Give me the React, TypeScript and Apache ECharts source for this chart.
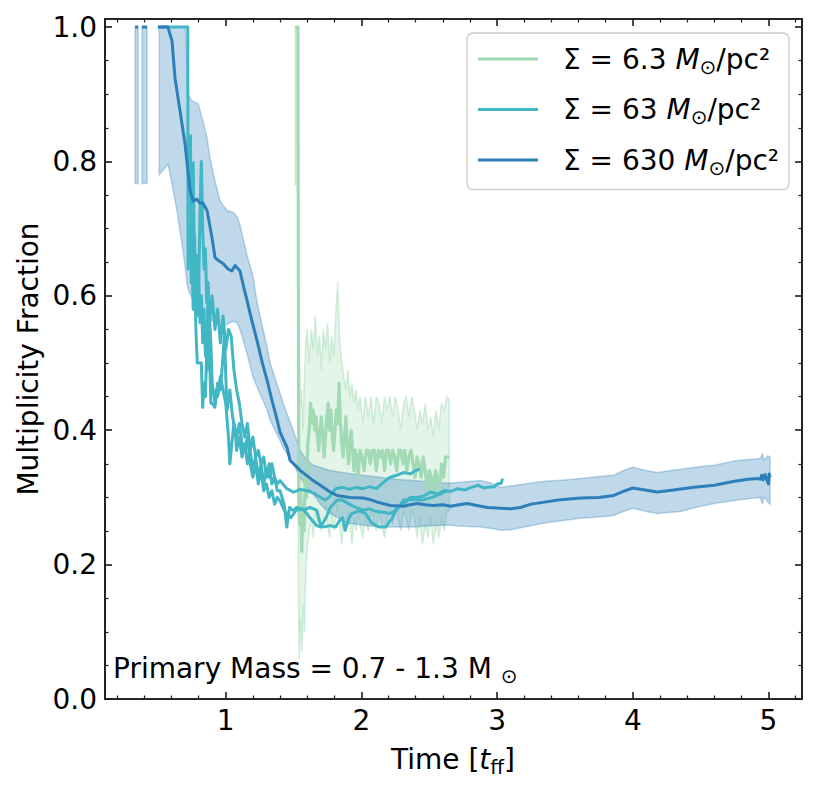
import React, { useEffect, useRef } from "react";
import * as echarts from "echarts";

const FONT = "'DejaVu Sans', sans-serif";

// axis ranges and ticks
const X_RANGE = [0.11, 5.247];
const Y_RANGE = [0, 1.012];
const xMajorTicks = [1, 2, 3, 4, 5];
const xMinorTicks = [0.2, 0.4, 0.6, 0.8, 1.2, 1.4, 1.6, 1.8, 2.2, 2.4, 2.6, 2.8, 3.2, 3.4, 3.6, 3.8, 4.2, 4.4, 4.6, 4.8, 5.2];
const yMajorTicks = [0, 0.2, 0.4, 0.6, 0.8, 1.0];
const yMinorTicks = [0.05, 0.1, 0.15, 0.25, 0.3, 0.35, 0.45, 0.5, 0.55, 0.65, 0.7, 0.75, 0.85, 0.9, 0.95];

// legend categories
const sigmaValues = ["6.3", "63", "630"];

// Σ = 630 : median and spread band [x, low, high]
const blueMedian = [
  [0.332, 1], [0.354, 1], [0.365, null], [0.383, 1], [0.42, 1], [0.46, null], [0.5, 1], [0.574, 1],
  [0.604, 0.979], [0.626, 0.924], [0.663, 0.875], [0.7, 0.826], [0.737, 0.756], [0.759, 0.741], [0.788, 0.744],
  [0.81, 0.738], [0.832, 0.738], [0.862, 0.727], [0.899, 0.686], [0.921, 0.657], [0.95, 0.652], [0.98, 0.648],
  [1.017, 0.64], [1.045, 0.637], [1.069, 0.645], [1.105, 0.637], [1.13, 0.615], [1.157, 0.593], [1.19, 0.565],
  [1.231, 0.533], [1.27, 0.5], [1.305, 0.474], [1.34, 0.445], [1.379, 0.415], [1.4, 0.397], [1.452, 0.374],
  [1.474, 0.355], [1.526, 0.345], [1.548, 0.34], [1.6, 0.332], [1.644, 0.325], [1.718, 0.315], [1.77, 0.308],
  [1.821, 0.303], [1.917, 0.3], [2.013, 0.299], [2.06, 0.297], [2.117, 0.293], [2.213, 0.288], [2.309, 0.287],
  [2.36, 0.289], [2.412, 0.291], [2.47, 0.289], [2.53, 0.288], [2.6, 0.289], [2.656, 0.287], [2.72, 0.289],
  [2.781, 0.291], [2.85, 0.288], [2.929, 0.285], [3.025, 0.284], [3.1, 0.283], [3.172, 0.285], [3.25, 0.29],
  [3.35, 0.293], [3.45, 0.296], [3.615, 0.299], [3.75, 0.3], [3.86, 0.303], [3.93, 0.309], [4.0, 0.314],
  [4.09, 0.311], [4.18, 0.308], [4.3, 0.311], [4.45, 0.315], [4.6, 0.318], [4.75, 0.324], [4.85, 0.327],
  [4.92, 0.328], [4.94, 0.327], [4.95, 0.333], [4.96, 0.326], [4.975, 0.334], [4.985, 0.327], [5.0, 0.32],
  [5.005, 0.335], [5.012, 0.33],
];
const blueBandA = [[0.332, 0.767, 1.0], [0.354, 0.767, 1.0]];
const blueBandB = [[0.383, 0.767, 1.0], [0.42, 0.767, 1.0]];
const blueBandC = [
  [0.51, 0.78, 1.0], [0.574, 0.796, 1.0], [0.604, 0.767, 1.0], [0.64, 0.727, 1.0], [0.677, 0.678, 1.0],
  [0.7, 0.645, 1.0], [0.714, 0.618, 0.95], [0.722, 0.61, 0.9], [0.75, 0.597, 0.89], [0.796, 0.588, 0.886],
  [0.832, 0.58, 0.86], [0.862, 0.572, 0.835], [0.884, 0.566, 0.805], [0.921, 0.56, 0.771], [0.958, 0.555, 0.741],
  [0.98, 0.553, 0.735], [1.01, 0.558, 0.727], [1.054, 0.562, 0.724], [1.083, 0.56, 0.718], [1.105, 0.55, 0.705],
  [1.157, 0.514, 0.66], [1.2, 0.48, 0.63], [1.231, 0.464, 0.59], [1.305, 0.43, 0.523], [1.327, 0.415, 0.5],
  [1.4, 0.385, 0.455], [1.423, 0.374, 0.44], [1.497, 0.35, 0.4], [1.548, 0.33, 0.37], [1.6, 0.315, 0.355],
  [1.644, 0.306, 0.348], [1.696, 0.29, 0.345], [1.77, 0.276, 0.34], [1.895, 0.262, 0.336], [2.0, 0.259, 0.333],
  [2.139, 0.256, 0.33], [2.25, 0.256, 0.327], [2.383, 0.256, 0.325], [2.5, 0.258, 0.323], [2.634, 0.259, 0.321],
  [2.75, 0.257, 0.323], [2.878, 0.256, 0.325], [2.95, 0.254, 0.322], [3.025, 0.251, 0.315], [3.1, 0.252, 0.317],
  [3.2, 0.256, 0.32], [3.35, 0.262, 0.324], [3.5, 0.266, 0.326], [3.615, 0.269, 0.328], [3.75, 0.271, 0.331],
  [3.86, 0.273, 0.333], [3.93, 0.279, 0.34], [4.0, 0.284, 0.345], [4.1, 0.279, 0.34], [4.18, 0.276, 0.337],
  [4.35, 0.279, 0.342], [4.5, 0.287, 0.346], [4.6, 0.291, 0.348], [4.77, 0.296, 0.355], [4.9, 0.299, 0.357],
  [4.94, 0.3, 0.358], [4.955, 0.29, 0.365], [4.965, 0.3, 0.356], [4.98, 0.298, 0.358], [4.995, 0.293, 0.362],
  [5.012, 0.29, 0.36],
];

// Σ = 63 : three individual curves
const tealRun1 = [
  [0.5, 1], [0.72, 1], [0.722, 0.64], [0.73, 0.7], [0.74, 0.65], [0.75, 0.72], [0.76, 0.63], [0.77, 0.69],
  [0.78, 0.59], [0.79, 0.66], [0.8, 0.61], [0.81, 0.72], [0.82, 0.8], [0.83, 0.7], [0.84, 0.64], [0.85, 0.67],
  [0.86, 0.59], [0.87, 0.62], [0.88, 0.56], [0.9, 0.6], [0.92, 0.55], [0.94, 0.58], [0.96, 0.53], [0.98, 0.57],
  [1.0, 0.52], [1.02, 0.55], [1.04, 0.54], [1.06, 0.49], [1.08, 0.46], [1.1, 0.44], [1.12, 0.41], [1.14, 0.39],
  [1.16, 0.41], [1.18, 0.37], [1.2, 0.39], [1.22, 0.36], [1.24, 0.37], [1.26, 0.35], [1.28, 0.36], [1.3, 0.33],
  [1.32, 0.35], [1.34, 0.32], [1.36, 0.33], [1.38, 0.31], [1.4, 0.31], [1.43, 0.29], [1.45, 0.256], [1.47, 0.285],
  [1.5, 0.28], [1.52, 0.285], [1.57, 0.281], [1.62, 0.285], [1.67, 0.281], [1.7, 0.258], [1.72, 0.256],
  [1.77, 0.258], [1.81, 0.256], [1.84, 0.266], [1.86, 0.27], [1.88, 0.251], [1.91, 0.27], [1.93, 0.276],
  [1.98, 0.28], [2.03, 0.276], [2.08, 0.261], [2.13, 0.256], [2.18, 0.256], [2.21, 0.265], [2.23, 0.27],
  [2.26, 0.285], [2.31, 0.29], [2.36, 0.3], [2.41, 0.3], [2.46, 0.302], [2.51, 0.308], [2.56, 0.305],
  [2.61, 0.31], [2.66, 0.309], [2.71, 0.313], [2.76, 0.311], [2.81, 0.315], [2.86, 0.318], [2.9, 0.314],
  [2.93, 0.315], [2.98, 0.316], [3.0, 0.32], [3.03, 0.321], [3.04, 0.328],
];
const tealRun2 = [
  [0.74, 0.84], [0.745, 0.62], [0.75, 0.66], [0.76, 0.58], [0.77, 0.63], [0.78, 0.55], [0.79, 0.5], [0.8, 0.5],
  [0.82, 0.5], [0.83, 0.434], [0.84, 0.47], [0.85, 0.45], [0.86, 0.52], [0.87, 0.608], [0.88, 0.52], [0.89, 0.44],
  [0.9, 0.44], [0.92, 0.434], [0.94, 0.47], [0.96, 0.46], [0.98, 0.51], [0.99, 0.548], [1.0, 0.48], [1.01, 0.43],
  [1.03, 0.46], [1.05, 0.42], [1.07, 0.4], [1.08, 0.37], [1.1, 0.39], [1.12, 0.36], [1.14, 0.38], [1.16, 0.35],
  [1.18, 0.37], [1.2, 0.34], [1.22, 0.36], [1.24, 0.33], [1.26, 0.35], [1.28, 0.32], [1.3, 0.34], [1.32, 0.33],
  [1.34, 0.35], [1.36, 0.33], [1.38, 0.32], [1.4, 0.325], [1.45, 0.313], [1.5, 0.308], [1.55, 0.312],
  [1.6, 0.31], [1.65, 0.306], [1.7, 0.3], [1.73, 0.296], [1.76, 0.3], [1.78, 0.305], [1.81, 0.313],
  [1.86, 0.315], [1.91, 0.312], [1.96, 0.315], [2.01, 0.313], [2.06, 0.316], [2.11, 0.313], [2.16, 0.322],
  [2.21, 0.33], [2.26, 0.333], [2.31, 0.337], [2.36, 0.335], [2.4, 0.34], [2.43, 0.342],
];
const tealRun3 = [
  [0.76, 0.8], [0.765, 0.7], [0.77, 0.66], [0.78, 0.62], [0.79, 0.57], [0.8, 0.63], [0.81, 0.56], [0.82, 0.6],
  [0.83, 0.53], [0.84, 0.58], [0.85, 0.51], [0.86, 0.55], [0.87, 0.49], [0.88, 0.57], [0.89, 0.53], [0.9, 0.47],
  [0.92, 0.44], [0.93, 0.46], [0.94, 0.45], [0.96, 0.48], [0.98, 0.46], [1.0, 0.44], [1.02, 0.39], [1.03, 0.35],
  [1.04, 0.37], [1.06, 0.41], [1.08, 0.39], [1.1, 0.41], [1.12, 0.38], [1.14, 0.37], [1.16, 0.39], [1.18, 0.35],
  [1.2, 0.33], [1.22, 0.35], [1.24, 0.32], [1.26, 0.34], [1.28, 0.31], [1.3, 0.32], [1.32, 0.3], [1.34, 0.31],
  [1.36, 0.29], [1.38, 0.3], [1.4, 0.295], [1.43, 0.281], [1.48, 0.27], [1.52, 0.281], [1.57, 0.283],
  [1.62, 0.27], [1.67, 0.258], [1.7, 0.256], [1.74, 0.27], [1.77, 0.285], [1.82, 0.296], [1.86, 0.296],
  [1.91, 0.29], [1.96, 0.285], [2.01, 0.281], [2.06, 0.283], [2.11, 0.279], [2.16, 0.278], [2.21, 0.276],
  [2.26, 0.281], [2.31, 0.296], [2.38, 0.297], [2.45, 0.296], [2.52, 0.3], [2.58, 0.305], [2.63, 0.31],
];

// Σ = 6.3 : median and spread band [x, low, high]
const greenMedian = [
  [1.512, 1.0], [1.532, 1.0], [1.535, 0.62], [1.538, 0.3], [1.545, 0.26], [1.552, 0.31], [1.56, 0.22],
  [1.568, 0.29], [1.577, 0.25], [1.585, 0.33], [1.595, 0.3], [1.605, 0.38], [1.615, 0.4], [1.625, 0.44],
  [1.635, 0.41], [1.645, 0.43], [1.655, 0.4], [1.665, 0.42], [1.675, 0.39], [1.685, 0.37], [1.695, 0.4],
  [1.705, 0.42], [1.715, 0.39], [1.725, 0.36], [1.735, 0.39], [1.745, 0.42], [1.755, 0.44], [1.765, 0.4],
  [1.775, 0.43], [1.785, 0.39], [1.795, 0.37], [1.805, 0.4], [1.815, 0.43], [1.825, 0.41], [1.835, 0.47],
  [1.845, 0.41], [1.855, 0.38], [1.865, 0.36], [1.875, 0.39], [1.885, 0.42], [1.895, 0.38], [1.905, 0.35],
  [1.915, 0.38], [1.925, 0.4], [1.935, 0.37], [1.945, 0.34], [1.955, 0.37], [1.965, 0.36], [1.975, 0.33],
  [1.99, 0.37], [2.005, 0.36], [2.02, 0.34], [2.035, 0.37], [2.05, 0.37], [2.065, 0.35], [2.08, 0.37],
  [2.095, 0.37], [2.11, 0.34], [2.125, 0.37], [2.14, 0.36], [2.155, 0.37], [2.17, 0.34], [2.185, 0.37],
  [2.2, 0.37], [2.215, 0.35], [2.23, 0.37], [2.245, 0.36], [2.26, 0.34], [2.275, 0.37], [2.29, 0.37],
  [2.305, 0.35], [2.32, 0.37], [2.335, 0.34], [2.35, 0.36], [2.365, 0.37], [2.38, 0.35], [2.395, 0.33],
  [2.41, 0.36], [2.425, 0.35], [2.44, 0.33], [2.455, 0.36], [2.47, 0.34], [2.485, 0.31], [2.5, 0.34],
  [2.515, 0.33], [2.53, 0.3], [2.545, 0.34], [2.56, 0.33], [2.575, 0.31], [2.59, 0.35], [2.605, 0.33],
  [2.62, 0.36], [2.635, 0.36], [2.648, 0.36],
];
const greenBand = [
  [1.512, 0.765, 1.0], [1.532, 0.765, 1.0], [1.535, 0.2, 0.62], [1.54, 0.06, 0.52], [1.55, 0.12, 0.44],
  [1.56, 0.07, 0.46], [1.57, 0.14, 0.4], [1.58, 0.1, 0.48], [1.59, 0.19, 0.53], [1.6, 0.22, 0.55],
  [1.615, 0.25, 0.5], [1.63, 0.27, 0.55], [1.645, 0.24, 0.52], [1.66, 0.28, 0.57], [1.675, 0.26, 0.51],
  [1.69, 0.28, 0.54], [1.705, 0.25, 0.49], [1.72, 0.27, 0.55], [1.735, 0.29, 0.52], [1.75, 0.26, 0.56],
  [1.765, 0.24, 0.5], [1.78, 0.28, 0.54], [1.795, 0.25, 0.51], [1.81, 0.27, 0.57], [1.825, 0.29, 0.62],
  [1.84, 0.26, 0.53], [1.855, 0.23, 0.5], [1.87, 0.27, 0.48], [1.885, 0.25, 0.46], [1.9, 0.28, 0.49],
  [1.915, 0.26, 0.45], [1.93, 0.23, 0.47], [1.945, 0.27, 0.44], [1.96, 0.25, 0.46], [1.975, 0.28, 0.43],
  [1.99, 0.26, 0.45], [2.01, 0.24, 0.41], [2.03, 0.27, 0.45], [2.05, 0.25, 0.42], [2.07, 0.28, 0.45],
  [2.09, 0.27, 0.41], [2.11, 0.25, 0.45], [2.13, 0.28, 0.44], [2.15, 0.26, 0.41], [2.17, 0.24, 0.45],
  [2.19, 0.27, 0.43], [2.21, 0.28, 0.45], [2.23, 0.26, 0.42], [2.25, 0.28, 0.45], [2.27, 0.27, 0.43],
  [2.29, 0.25, 0.4], [2.31, 0.28, 0.44], [2.33, 0.27, 0.45], [2.35, 0.25, 0.42], [2.37, 0.28, 0.45],
  [2.39, 0.27, 0.43], [2.41, 0.24, 0.4], [2.43, 0.27, 0.43], [2.45, 0.23, 0.41], [2.47, 0.26, 0.44],
  [2.49, 0.24, 0.4], [2.51, 0.27, 0.42], [2.53, 0.23, 0.39], [2.55, 0.26, 0.43], [2.57, 0.24, 0.4],
  [2.59, 0.27, 0.44], [2.61, 0.25, 0.43], [2.63, 0.28, 0.45], [2.648, 0.28, 0.445],
];

const GREEN = "#a1dab4";
const TEAL = "#41b6c4";
const BLUE = "#2c7fb8";
const INK = "#1a1a1a";

const legendName = (i: number) => `Σ = ${sigmaValues[i]}`;

const richMain = { fontFamily: FONT, fontSize: 28, color: "#000", fill: "#000", lineHeight: 34, verticalAlign: "middle" };
const richItal = { ...richMain, fontStyle: "italic" };
const richSub = { fontFamily: FONT, fontSize: 20, color: "#000", fill: "#000", verticalAlign: "top", padding: [15, 0, 0, 0] };

function xAxis(position: string, ticks: number[], len: number, width: number, labels: boolean) {
  return {
    type: "value", position, min: X_RANGE[0], max: X_RANGE[1],
    splitLine: { show: false },
    axisLine: { show: true, onZero: false, lineStyle: { color: INK, width: 1.6 } },
    axisTick: { show: true, inside: true, length: len, customValues: ticks, lineStyle: { color: INK, width } },
    axisLabel: {
      show: labels, customValues: ticks, margin: 7, fontFamily: FONT, fontSize: 28, color: "#000",
      formatter: (v: number) => String(v),
    },
  };
}
function yAxis(position: string, ticks: number[], len: number, width: number, labels: boolean) {
  return {
    type: "value", position, min: Y_RANGE[0], max: Y_RANGE[1],
    splitLine: { show: false },
    axisLine: { show: true, onZero: false, lineStyle: { color: INK, width: 1.6 } },
    axisTick: { show: true, inside: true, length: len, customValues: ticks, lineStyle: { color: INK, width } },
    axisLabel: {
      show: labels, customValues: ticks, margin: 8, fontFamily: FONT, fontSize: 28, color: "#000",
      formatter: (v: number) => v.toFixed(1),
    },
  };
}

function lineSeries(name: string, data: any[], color: string, width: number) {
  return {
    type: "line", name, data, color, showSymbol: false, symbol: "none", connectNulls: false,
    lineStyle: { color, width, join: "round" }, itemStyle: { color }, silent: true, clip: true,
    emphasis: { disabled: true },
  };
}

function bandSeries(name: string, segments: number[][][], fill: string, edge: string) {
  return {
    type: "custom", name, silent: true, clip: true,
    data: segments.flat(), encode: { x: 0, y: [1, 2] },
    renderItem: (params: any, api: any) => {
      if (params.dataIndex !== 0) return { type: "group", children: [] };
      const children: any[] = [];
      segments.forEach((seg) => {
        const up = seg.map((r) => api.coord([r[0], r[2]]));
        const lo = seg.map((r) => api.coord([r[0], r[1]]));
        children.push({
          type: "polygon",
          shape: { points: up.concat(lo.slice().reverse()) },
          style: { fill, stroke: edge, lineWidth: 1.5 },
        });
      });
      return { type: "group", children };
    },
  };
}

export default function App() {
  const ref = useRef<HTMLDivElement>(null);
  useEffect(() => {
    const chart = echarts.init(ref.current as HTMLDivElement, null, { renderer: "svg" });
    const option: any = {
      animation: false,
      backgroundColor: "#fff",
      grid: { left: 105, right: 15, top: 19, bottom: 89, containLabel: false },
      xAxis: [
        xAxis("bottom", xMajorTicks, 7, 1.6, true),
        xAxis("bottom", xMinorTicks, 3.5, 1.2, false),
        xAxis("top", xMajorTicks, 7, 1.6, false),
        xAxis("top", xMinorTicks, 3.5, 1.2, false),
      ],
      yAxis: [
        yAxis("left", yMajorTicks, 7, 1.6, true),
        yAxis("left", yMinorTicks, 3.5, 1.2, false),
        yAxis("right", yMajorTicks, 7, 1.6, false),
        yAxis("right", yMinorTicks, 3.5, 1.2, false),
      ],
      legend: {
        show: true, orient: "vertical", left: 467, top: 33,
        data: [0, 1, 2].map((i) => ({ name: legendName(i), icon: "rect" })),
        itemWidth: 60, itemHeight: 3, itemGap: 19,
        itemStyle: { borderWidth: 0 },
        padding: [12, 10, 12, 11],
        backgroundColor: "rgba(255,255,255,0.8)", borderColor: "#cccccc", borderWidth: 1.3, borderRadius: 6,
        selectedMode: false,
        formatter: (name: string) => `{n|${name} }{i|M}{s|⊙}{n|/pc²}`,
        textStyle: {
          fontFamily: FONT, fontSize: 28, color: "#000", padding: [0, 0, 0, 20],
          rich: { n: richMain, i: richItal, s: richSub },
        },
      },
      graphic: [
        {
          type: "text", x: 28, y: 359, rotation: Math.PI / 2,
          style: {
            text: "Multiplicity Fraction", fontFamily: FONT, fontSize: 28, fill: "#000",
            align: "center", verticalAlign: "middle", textAlign: "center", textVerticalAlign: "middle",
          },
        },
        {
          type: "text", x: 453, y: 759,
          style: {
            text: "{a|Time [}{t|t}{s|ff}{a|]}", fill: "#000",
            align: "center", verticalAlign: "middle", textAlign: "center", textVerticalAlign: "middle",
            rich: { a: richMain, t: richItal, s: richSub },
          },
        },
        {
          type: "text", x: 113, y: 668,
          style: {
            text: "{a|Primary Mass = 0.7 - 1.3 M }{s|⊙}", fill: "#000",
            align: "left", verticalAlign: "middle", textAlign: "left", textVerticalAlign: "middle",
            rich: { a: richMain, s: richSub },
          },
        },
      ],
      series: [
        bandSeries("band6.3", [greenBand], "rgba(161,218,180,0.3)", "rgba(161,218,180,0.45)"),
        lineSeries(legendName(0), greenMedian, GREEN, 3.2),
        lineSeries(legendName(1), tealRun1, TEAL, 3),
        lineSeries(legendName(1), tealRun2, TEAL, 3),
        lineSeries(legendName(1), tealRun3, TEAL, 3),
        bandSeries("band630", [blueBandA, blueBandB, blueBandC], "rgba(44,127,184,0.3)", "rgba(44,127,184,0.3)"),
        lineSeries(legendName(2), blueMedian, BLUE, 3),
      ],
    };
    chart.setOption(option);
    return () => chart.dispose();
  }, []);
  return (
    <div
      ref={ref}
      style={{ position: "fixed", left: 0, top: 0, width: 817, height: 788, background: "#fff" }}
    />
  );
}
